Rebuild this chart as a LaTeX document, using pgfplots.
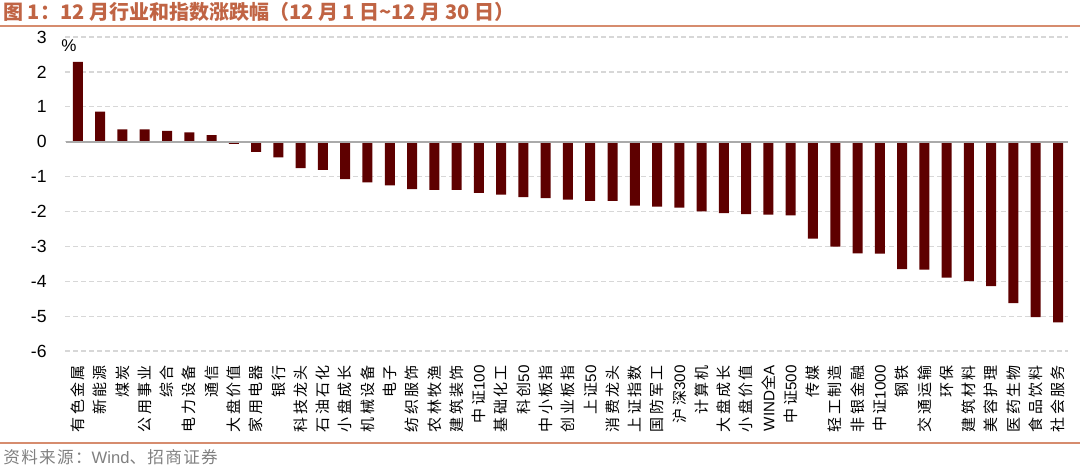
\documentclass[border=0pt]{standalone}
\usepackage{pgfplots}
\usepackage{pgfplotstable}
\pgfplotsset{compat=1.18}
\usepackage{fontspec}
\setmainfont{Liberation Sans}
\newfontfamily\cjk[LetterSpace=15]{Noto Sans CJK SC}
\newfontfamily\cjkt{Noto Sans CJK SC}
\newfontfamily\cjks[LetterSpace=8]{Noto Sans CJK SC}
\newcommand{\lat}[1]{{\rmfamily\fontsize{7.6}{8}\selectfont #1}}
\definecolor{barc}{RGB}{94,0,0}
\definecolor{titlec}{RGB}{192,100,68}
\definecolor{rulec}{RGB}{214,140,110}
\definecolor{gridc}{RGB}{215,215,215}
\definecolor{zeroc}{RGB}{170,170,170}
\definecolor{srcc}{RGB}{128,128,128}
\pgfplotstableread{
x y
0 2.29
1 0.86
2 0.35
3 0.35
4 0.31
5 0.27
6 0.19
7 -0.06
8 -0.29
9 -0.45
10 -0.76
11 -0.81
12 -1.07
13 -1.17
14 -1.25
15 -1.36
16 -1.38
17 -1.38
18 -1.47
19 -1.52
20 -1.59
21 -1.62
22 -1.66
23 -1.70
24 -1.70
25 -1.83
26 -1.86
27 -1.89
28 -2.00
29 -2.05
30 -2.08
31 -2.09
32 -2.11
33 -2.78
34 -3.01
35 -3.20
36 -3.21
37 -3.65
38 -3.67
39 -3.90
40 -4.00
41 -4.14
42 -4.63
43 -5.03
44 -5.18
}\datatable
\begin{document}
\begin{tikzpicture}
\begin{axis}[
  at={(32.5pt,58.5pt)}, anchor=south west,
  scale only axis, width=501.5pt, height=157pt,
  xmin=-0.58, xmax=44.45, ymin=-6, ymax=3,
  ytick={-6,-5,-4,-3,-2,-1,0,1,2,3},
  xtick={0,...,44},
  xticklabels={有色金属,新能源,煤炭,公用事业,综合,电力设备,通信,大盘价值,家用电器,银行,科技龙头,石油石化,小盘成长,机械设备,电子,纺织服饰,农林牧渔,建筑装饰,中证\lat{100},基础化工,科创\lat{50},中小板指,创业板指,上证\lat{50},消费龙头,上证指数,国防军工,沪深\lat{300},计算机,大盘成长,小盘价值,\lat{WIND}全\lat{A},中证\lat{500},传媒,轻工制造,非银金融,中证\lat{1000},钢铁,交通运输,环保,建筑材料,美容护理,医药生物,食品饮料,社会服务},
  axis line style={draw=none},
  major tick length=0pt,
  ymajorgrids,
  grid style={gridc, line width=0.6pt, dash pattern=on 2.5pt off 1.5pt},
  yticklabel style={font=\fontsize{8.8}{10}\selectfont, inner sep=0pt, anchor=east},
  yticklabel shift=9pt,
  xticklabel style={font=\cjk\fontsize{7.5}{9}\selectfont, rotate=90, anchor=east, inner sep=0pt},
  xticklabel shift=7pt,
  /pgf/number format/assume math mode=true,
  ybar, bar width=5pt,
  clip=false,
]
\addplot[ybar, bar shift=0pt, fill=barc, draw=none] table[x=x,y=y] {\datatable};
\draw[zeroc, line width=1pt] (axis cs:-0.55,0) -- (axis cs:44.45,0);
\end{axis}
\node[anchor=west, text=titlec, font=\cjkt\bfseries\fontsize{10}{11}\selectfont, inner sep=0pt] at (1.5pt,228pt) {图 1：12 月行业和指数涨跌幅（12 月 1 日\string~12 月 30 日）};
\draw[rulec, line width=1pt] (0pt,221pt) -- (540pt,221pt);
\draw[rulec, line width=0.8pt] (0pt,12.5pt) -- (540pt,12.5pt);
\node[font=\fontsize{8.5}{9}\selectfont] at (34.5pt,211pt) {\%};
\node[anchor=west, text=srcc, inner sep=0pt, font=\cjks\fontsize{8.3}{9}\selectfont] at (1.5pt,5.5pt) {资料来源：{\rmfamily Wind}、招商证券};
\pgfresetboundingbox
\useasboundingbox (0pt,0pt) rectangle (540pt,234pt);
\end{tikzpicture}
\end{document}
